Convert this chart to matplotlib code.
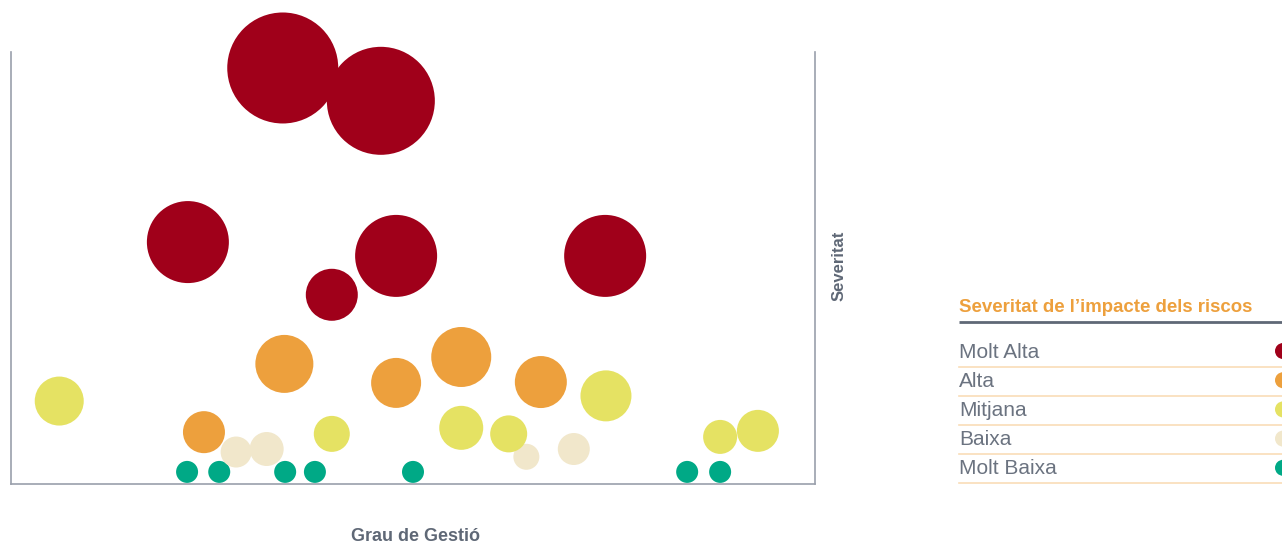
import numpy as np
import matplotlib.pyplot as plt

# dades: grau de gestio (x, 0-100), severitat (y, 0-100), pes del risc (radi de la bombolla)
categories = ['Molt Alta', 'Alta', 'Mitjana', 'Baixa', 'Molt Baixa']
colors = ['#A0001A', '#EDA03D', '#E5E263', '#F1E7CB', '#00A986']

molt_alta_x = [33.8, 46.0, 22.0, 47.9, 73.9, 39.9]
molt_alta_y = [96.3, 88.7, 56.0, 52.8, 52.8, 43.8]
molt_alta_pes = [55.5, 54, 41, 41, 41, 26]

alta_x = [34.0, 56.0, 47.9, 65.9, 24.0]
alta_y = [27.8, 29.4, 23.4, 23.6, 12.0]
alta_pes = [29, 30, 25, 26, 21]

mitjana_x = [6.0, 74.0, 56.0, 61.9, 39.9, 88.2, 92.9]
mitjana_y = [19.2, 20.4, 13.0, 11.6, 11.6, 10.9, 12.3]
mitjana_pes = [24.5, 25.5, 22, 18.5, 18, 17, 21]

baixa_x = [28.0, 31.8, 64.1, 70.0]
baixa_y = [7.4, 8.1, 6.3, 8.1]
baixa_pes = [15.5, 17, 13, 16]

molt_baixa_x = [21.9, 25.9, 34.1, 37.8, 50.0, 84.1, 88.2]
molt_baixa_y = [2.8, 2.8, 2.8, 2.8, 2.8, 2.8, 2.8]
molt_baixa_pes = [11, 11, 11, 11, 11, 11, 11]

series = [
    (molt_alta_x, molt_alta_y, molt_alta_pes),
    (alta_x, alta_y, alta_pes),
    (mitjana_x, mitjana_y, mitjana_pes),
    (baixa_x, baixa_y, baixa_pes),
    (molt_baixa_x, molt_baixa_y, molt_baixa_pes),
]

W, H = 1282, 546
fig = plt.figure(figsize=(W / 100, H / 100), dpi=100)
fig.patch.set_facecolor('white')

ax = fig.add_axes([11 / W, (H - 484) / H, 804 / W, 432 / H])
ax.set_xlim(0, 100)
ax.set_ylim(0, 100)

px_to_pt = 72 / 100
# dibuixar de mes petit a mes gran perque els grans quedin darrere
for (xs, ys, pes), c in zip(series[::-1], colors[::-1]):
    s = (2 * np.array(pes) * px_to_pt) ** 2
    ax.scatter(xs, ys, s=s, color=c, edgecolors='none', clip_on=False, zorder=3)

spine_col = '#9AA0AB'
ax.spines['top'].set_visible(False)
for sp in ['left', 'right', 'bottom']:
    ax.spines[sp].set_color(spine_col)
    ax.spines[sp].set_linewidth(1.2)
ax.set_xticks([])
ax.set_yticks([])

text_col = '#5F6876'
ax.set_xlabel('Grau de Gestió', fontsize=13, fontweight='bold', color=text_col,
              family='Liberation Sans', labelpad=32)
ax.xaxis.label.set_x(0.503)
ax.yaxis.set_label_position('right')
ax.set_ylabel('Severitat', fontsize=12, fontweight='bold', color=text_col,
              family='Liberation Sans', labelpad=12)
ax.yaxis.label.set_y(0.505)

# llegenda dibuixada a ma en coordenades de pixel
lg = fig.add_axes([0, 0, 1, 1], zorder=-1)
lg.set_xlim(0, W)
lg.set_ylim(H, 0)
lg.axis('off')

lg.text(959, 307, 'Severitat de l\u2019impacte dels riscos', fontsize=13.4, fontweight='bold',
        color='#EDA03D', family='Liberation Sans', va='center', ha='left')
lg.plot([959, W], [322, 322], color='#5F6876', lw=2, solid_capstyle='butt')

row_y = 352
for cat, c in zip(categories, colors):
    lg.text(959, row_y, cat, fontsize=15, color='#6B7380', family='Liberation Sans',
            va='center', ha='left')
    lg.plot([959, W], [row_y + 14.5, row_y + 14.5], color='#F9DDB8', lw=1.2)
    lg.scatter([1283], [row_y - 1], s=(16 * px_to_pt) ** 2, color=c, edgecolors='none', clip_on=False)
    row_y += 29.2

fig.savefig('out.png', dpi=100, facecolor='white')
